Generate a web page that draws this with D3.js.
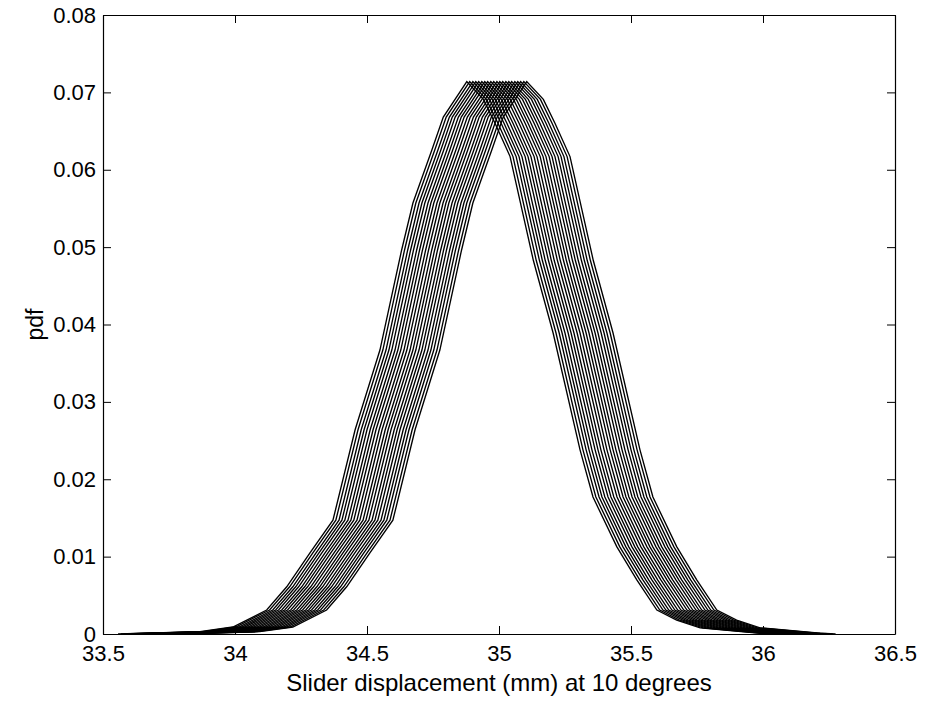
<!DOCTYPE html>
<html>
<head>
<meta charset="utf-8">
<script src="https://cdn.jsdelivr.net/npm/d3@7"></script>
<style>
  body { margin: 0; background: #fff; }
  svg { display: block; font-family: "Liberation Sans", Arial, sans-serif; }
  .tick text { font-size: 22px; fill: #000; }
</style>
</head>
<body>
<div class="chart"></div>
<script>
// shape of the leftmost curve (x in mm, pdf value)
const baseX = [33.557, 33.867, 33.992, 34.120, 34.196, 34.284, 34.371, 34.455, 34.549, 34.631,
  34.674, 34.745, 34.789, 34.878, 34.941, 34.985, 35.042, 35.130, 35.205, 35.307,
  35.356, 35.446, 35.522, 35.598, 35.673, 35.762, 35.989, 36.048]
const basePdf = [0, 0.0003, 0.0009, 0.0031, 0.0061, 0.0105, 0.0147, 0.0264, 0.0367, 0.0496,
  0.0557, 0.0625, 0.0668, 0.0714, 0.0691, 0.0660, 0.0617, 0.0483, 0.0389, 0.0238,
  0.0177, 0.0113, 0.0070, 0.0031, 0.0018, 0.0008, 0.0001, 0]
// horizontal offset of each curve from the leftmost one
const offsets = [0, 0.011, 0.023, 0.034, 0.045, 0.057, 0.068, 0.079, 0.091, 0.102, 0.114,
  0.125, 0.136, 0.148, 0.159, 0.170, 0.182, 0.193, 0.204, 0.216, 0.227]
const xTicks = [33.5, 34, 34.5, 35, 35.5, 36, 36.5]
const yTicks = [0, 0.01, 0.02, 0.03, 0.04, 0.05, 0.06, 0.07, 0.08]

const width = 925
const height = 710
const plotL = 103, plotR = 895, plotT = 15, plotB = 634

const svg = d3.select('.chart')
  .append('svg')
  .attr('width', width)
  .attr('height', height)

const x = d3.scaleLinear().domain([33.5, 36.5]).range([plotL, plotR])
const y = d3.scaleLinear().domain([0, 0.08]).range([plotB, plotT])

const line = d3.line()
  .x(d => x(d[0]))
  .y(d => y(d[1]))

svg.append('g')
  .selectAll('path')
  .data(offsets)
  .enter()
  .append('path')
  .attr('d', off => line(baseX.map((v, i) => [v + off, basePdf[i]])))
  .attr('fill', 'none')
  .attr('stroke', '#000')
  .attr('stroke-width', 1.35)

const fmtX = d => d3.format('')(d)
const fmtY = d => d === 0 ? '0' : d3.format('.2f')(d)

// bottom axis
svg.append('g')
  .attr('transform', `translate(0, ${plotB})`)
  .call(d3.axisBottom(x).tickValues(xTicks).tickFormat(fmtX).tickSizeInner(-8).tickSizeOuter(0).tickPadding(9))
  .call(g => g.selectAll('text').attr('dy', '0.8em'))
// top axis
svg.append('g')
  .attr('transform', `translate(0, ${plotT})`)
  .call(d3.axisTop(x).tickValues(xTicks).tickSizeInner(-8).tickSizeOuter(0))
  .call(g => g.selectAll('text').remove())
// left axis
svg.append('g')
  .attr('transform', `translate(${plotL}, 0)`)
  .call(d3.axisLeft(y).tickValues(yTicks).tickFormat(fmtY).tickSizeInner(-8).tickSizeOuter(0).tickPadding(7))
// right axis
svg.append('g')
  .attr('transform', `translate(${plotR}, 0)`)
  .call(d3.axisRight(y).tickValues(yTicks).tickSizeInner(-8).tickSizeOuter(0))
  .call(g => g.selectAll('text').remove())

svg.selectAll('.domain').attr('stroke', '#000').attr('stroke-width', 1.2)
svg.selectAll('.tick line').attr('stroke', '#000')

svg.append('text')
  .attr('x', (plotL + plotR) / 2)
  .attr('y', 691)
  .attr('text-anchor', 'middle')
  .style('font-size', '24px')
  .text('Slider displacement (mm) at 10 degrees')

svg.append('text')
  .attr('transform', 'rotate(-90)')
  .attr('x', -(plotT + plotB) / 2)
  .attr('y', 43)
  .attr('text-anchor', 'middle')
  .style('font-size', '23px')
  .text('pdf')
</script>
</body>
</html>
